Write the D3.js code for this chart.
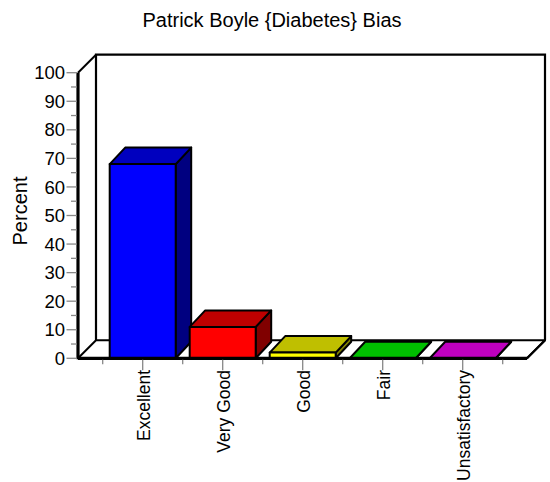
<!DOCTYPE html>
<html>
<head>
<meta charset="utf-8">
<script src="https://cdn.jsdelivr.net/npm/d3@7"></script>
<style>
  html, body { margin: 0; padding: 0; background: #fff; }
  svg { display: block; font-family: Arial, "Liberation Sans", Helvetica, sans-serif; }
</style>
</head>
<body>
<svg id="chart" width="550" height="482"></svg>
<script>
// Data
const categories = ["Excellent", "Very Good", "Good", "Fair", "Unsatisfactory"];
const percents = [68, 11, 2, 0, 0];
const yTicks = [0, 10, 20, 30, 40, 50, 60, 70, 80, 90, 100];
const titleText = "Patrick Boyle {Diabetes} Bias";
const yLabel = "Percent";

// Palette (front face colours; top and side faces are shaded from these)
const palette = ["#0000ff", "#ff0000", "#ffff00", "#00ff00", "#ff00ff"];

const svg = d3.select("#chart");

// Frame geometry
const frontLeft = 78, frontRight = 527;
const depthX = 18, depthY = 18;
const barDX = 15.5, barDY = 16.5;

const y = d3.scaleLinear().domain([0, 100]).range([358.3, 72.7]);
const x = d3.scaleBand().domain(categories).range([102.7, 502.7])
  .paddingInner(0.175).paddingOuter(0.0875);
const xEdges = d3.scaleBand().domain(categories).range([102.7, 502.7]).padding(0);

const y0 = y(0), yTop = y(100);

// Back wall
svg.append("rect")
  .attr("x", frontLeft + depthX).attr("y", yTop - depthY)
  .attr("width", frontRight - frontLeft).attr("height", y0 - yTop)
  .attr("fill", "#fff").attr("stroke", "none");
svg.append("path")
  .attr("d", `M${frontLeft + depthX},${y0 - depthY} V${yTop - depthY} H${frontRight + depthX} V${y0 - depthY}`)
  .attr("fill", "none").attr("stroke", "#000").attr("stroke-width", 2.2);

// Left wall diagonal at top
svg.append("line")
  .attr("x1", frontLeft).attr("y1", yTop)
  .attr("x2", frontLeft + depthX).attr("y2", yTop - depthY)
  .attr("stroke", "#000").attr("stroke-width", 2);

// Floor
svg.append("path")
  .attr("d", `M${frontLeft},${y0} L${frontLeft + depthX},${y0 - depthY} H${frontRight + depthX} L${frontRight},${y0} Z`)
  .attr("fill", "#fff").attr("stroke", "#000").attr("stroke-width", 2)
  .attr("stroke-linejoin", "round");

// Bars
const bars = svg.append("g");
categories.forEach((c, i) => {
  const v = percents[i];
  const bx0 = x(c), bx1 = x(c) + x.bandwidth();
  const by = y(v);
  const base = d3.rgb(palette[i]);
  const top = d3.rgb(base.r * 0.75, base.g * 0.75, base.b * 0.75);
  const side = d3.rgb(base.r * 0.5, base.g * 0.5, base.b * 0.5);
  const g = bars.append("g")
    .attr("stroke", "#000").attr("stroke-width", 2).attr("stroke-linejoin", "round");
  // side face
  g.append("path")
    .attr("d", `M${bx1},${y0} L${bx1 + barDX},${y0 - barDY} L${bx1 + barDX},${by - barDY} L${bx1},${by} Z`)
    .attr("fill", side);
  // top face
  g.append("path")
    .attr("d", `M${bx0},${by} L${bx0 + barDX},${by - barDY} L${bx1 + barDX},${by - barDY} L${bx1},${by} Z`)
    .attr("fill", top);
  // front face
  if (v > 0) {
    g.append("rect")
      .attr("x", bx0).attr("y", by)
      .attr("width", bx1 - bx0).attr("height", y0 - by)
      .attr("fill", base);
  }
});

// Front axis lines
svg.append("line")
  .attr("x1", frontLeft).attr("y1", yTop).attr("x2", frontLeft).attr("y2", y0 + 1)
  .attr("stroke", "#000").attr("stroke-width", 3.2);
svg.append("line")
  .attr("x1", frontLeft).attr("y1", y0).attr("x2", frontRight).attr("y2", y0)
  .attr("stroke", "#000").attr("stroke-width", 3.2);
svg.append("line")
  .attr("x1", frontRight).attr("y1", y0).attr("x2", frontRight + depthX).attr("y2", y0 - depthY)
  .attr("stroke", "#000").attr("stroke-width", 2.2);

// Y axis ticks
const yAxis = svg.append("g");
const minor = d3.range(5, 100, 10);
yAxis.selectAll("line.minor").data(minor).join("line")
  .attr("class", "minor")
  .attr("x1", 71).attr("x2", frontLeft - 1)
  .attr("y1", d => y(d)).attr("y2", d => y(d))
  .attr("stroke", "#888").attr("stroke-width", 1.3);
yAxis.selectAll("line.major").data(yTicks).join("line")
  .attr("class", "major")
  .attr("x1", 66.5).attr("x2", frontLeft - 1)
  .attr("y1", d => y(d)).attr("y2", d => y(d))
  .attr("stroke", "#888").attr("stroke-width", 1.3);
yAxis.selectAll("text").data(yTicks).join("text")
  .attr("x", 65).attr("y", d => y(d))
  .attr("dy", "0.36em")
  .attr("text-anchor", "end")
  .attr("font-size", 18.5)
  .attr("fill", "#000")
  .text(d => d);

// X axis ticks
const xAxis = svg.append("g");
const edges = categories.map(c => xEdges(c)).concat([xEdges(categories[categories.length - 1]) + xEdges.bandwidth()]);
xAxis.selectAll("line.edge").data(edges).join("line")
  .attr("class", "edge")
  .attr("x1", d => d).attr("x2", d => d)
  .attr("y1", y0 + 1.5).attr("y2", y0 + 6)
  .attr("stroke", "#888").attr("stroke-width", 1.3);
xAxis.selectAll("line.center").data(categories).join("line")
  .attr("class", "center")
  .attr("x1", d => x(d) + x.bandwidth() / 2).attr("x2", d => x(d) + x.bandwidth() / 2)
  .attr("y1", y0 + 1.5).attr("y2", y0 + 12)
  .attr("stroke", "#888").attr("stroke-width", 1.3);
xAxis.selectAll("text").data(categories).join("text")
  .attr("transform", d => `translate(${x(d) + x.bandwidth() / 2 + 7.5},370) rotate(-90)`)
  .attr("text-anchor", "end")
  .attr("font-size", 17.5)
  .attr("fill", "#000")
  .text(d => d);

// Title and axis label
svg.append("text")
  .attr("x", 272).attr("y", 26.7)
  .attr("text-anchor", "middle")
  .attr("font-size", 20)
  .attr("fill", "#000")
  .text(titleText);
svg.append("text")
  .attr("transform", "translate(26.7,211) rotate(-90)")
  .attr("text-anchor", "middle")
  .attr("font-size", 20)
  .attr("fill", "#000")
  .text(yLabel);
</script>
</body>
</html>
